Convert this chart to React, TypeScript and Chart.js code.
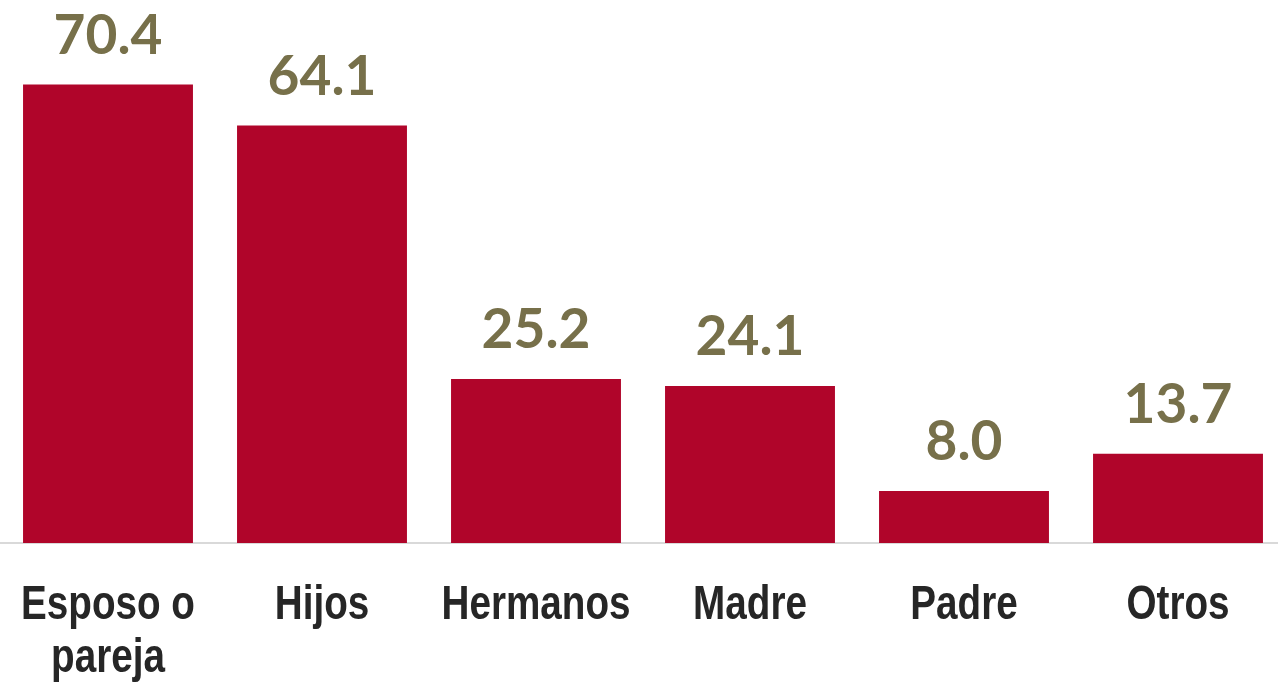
import React, { useEffect, useRef } from "react";
import { Chart, registerables } from "chart.js";

Chart.register(...registerables);

const categories: (string | string[])[] = [["Esposo o", "pareja"], "Hijos", "Hermanos", "Madre", "Padre", "Otros"];
const values: number[] = [70.4, 64.1, 25.2, 24.1, 8.0, 13.7];

const BAR_COLOR = "#B0052A";
const LABEL_COLOR = "#77704A";
const TICK_COLOR = "#262626";

const valueLabels = {
  id: "valueLabels",
  afterDatasetsDraw(chart: any) {
    const ctx = chart.ctx;
    const meta = chart.getDatasetMeta(0);
    ctx.save();
    ctx.font = "bold 55px Lato";
    ctx.fillStyle = LABEL_COLOR;
    ctx.textAlign = "center";
    ctx.textBaseline = "alphabetic";
    meta.data.forEach((bar: any, i: number) => {
      ctx.fillText(values[i].toFixed(1), bar.x, bar.y - 31);
    });
    ctx.restore();
  },
};

// Category labels drawn at the x scale's tick positions, horizontally condensed
const narrowTicks = {
  id: "narrowTicks",
  afterDraw(chart: any) {
    const ctx = chart.ctx;
    const xScale = chart.scales.x;
    ctx.save();
    ctx.font = "bold 48px 'Liberation Sans', Arial, sans-serif";
    ctx.fillStyle = TICK_COLOR;
    ctx.textAlign = "center";
    ctx.textBaseline = "alphabetic";
    categories.forEach((label, i) => {
      const lines = Array.isArray(label) ? label : [label];
      const x = xScale.getPixelForTick(i);
      lines.forEach((line, j) => {
        ctx.save();
        ctx.translate(x, xScale.top + 76 + j * 53);
        ctx.scale(0.805, 1);
        ctx.fillText(line, 0, 0);
        ctx.restore();
      });
    });
    ctx.restore();
  },
};

export default function App() {
  const ref = useRef<HTMLCanvasElement>(null);
  useEffect(() => {
    document.body.style.margin = "0";
    const chart = new Chart(ref.current!, {
      type: "bar",
      data: {
        labels: categories,
        datasets: [
          {
            data: values,
            backgroundColor: BAR_COLOR,
            borderWidth: 0,
            categoryPercentage: 1,
            barPercentage: 0.794,
          },
        ],
      },
      options: {
        animation: false,
        responsive: false,
        maintainAspectRatio: false,
        layout: { padding: { left: 1, right: 1, top: 22, bottom: 0 } },
        plugins: { legend: { display: false }, tooltip: { enabled: false } },
        scales: {
          x: {
            grid: { display: false, drawTicks: false },
            border: { display: true, color: "#D9D9D9", width: 2 },
            ticks: { display: false },
            afterFit: (scale: any) => {
              scale.height = 139;
              scale.paddingLeft = 0;
              scale.paddingRight = 0;
            },
          },
          y: {
            display: false,
            min: 0,
            max: 80,
          },
        },
      },
      plugins: [valueLabels, narrowTicks],
    });
    return () => chart.destroy();
  }, []);
  return (
    <div style={{ width: 1278, height: 682, overflow: "hidden", position: "relative" }}>
      <canvas ref={ref} width={1286} height={682} style={{ position: "absolute", left: 0, top: 0, width: 1286, height: 682 }} />
    </div>
  );
}
